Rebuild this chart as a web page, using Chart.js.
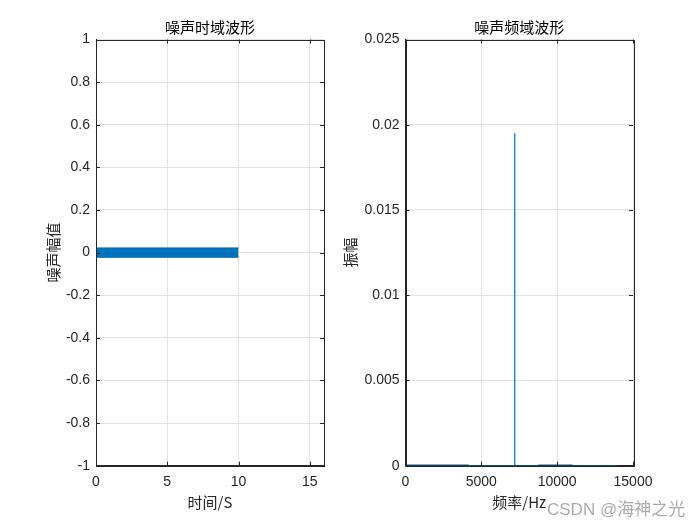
<!DOCTYPE html>
<html lang="zh">
<head>
  <meta charset="UTF-8" />
  <title>噪声波形</title>
  <script src="https://cdn.jsdelivr.net/npm/chart.js"></script>
  <style>
    body {
      margin: 0;
      background: #fff;
      width: 700px;
      height: 525px;
      position: relative;
      overflow: hidden;
    }
    #timeChart, #freqChart {
      position: absolute;
      top: 0;
    }
    #timeChart { left: 0; }
    #freqChart { left: 320px; }
    .mark {
      position: absolute;
      left: 547px;
      top: 495px;
      font: 17px "Liberation Sans", "Noto Sans CJK SC", sans-serif;
      color: rgba(150, 150, 150, 0.8);
      white-space: nowrap;
    }
  </style>
</head>
<body>

  <canvas id="timeChart" width="335" height="525"></canvas>
  <canvas id="freqChart" width="380" height="525"></canvas>
  <div class="mark">CSDN @海神之光</div>

  <script>
    // 时域: 噪声包络 (0~10 s)
    const timeX = [0, 10];
    const noiseUpper = [0.022, 0.022];
    const noiseLower = [-0.022, -0.022];

    // 频域
    const freqX = [0, 4150, 4160, 7190, 7200, 7210, 8740, 8750, 10990, 11000, 14000];
    const freqAmp = [0.00005, 0.00005, 0, 0, 0.0195, 0, 0, 0.00005, 0.00005, 0, 0];

    const timeTicksX = [0, 5, 10, 15];
    const freqTicksX = [0, 5000, 10000, 15000];

    const lineBlue = '#0072BD';
    const axisColor = '#262626';
    const gridColor = '#e3e3e3';
    const tickFont = { family: 'Liberation Sans, Arial, sans-serif', size: 14 };
    const cjkFont = { family: 'Noto Sans CJK SC, sans-serif', size: 15, weight: 'normal' };

    function fmt(v) {
      return String(+Number(v).toFixed(4));
    }

    // MATLAB 风格: 四边框 + 向内刻度
    const boxTicks = {
      id: 'boxTicks',
      afterDraw(chart) {
        const { ctx, chartArea: a, scales } = chart;
        const len = 4;
        ctx.save();
        ctx.strokeStyle = axisColor;
        ctx.lineWidth = 1;
        ctx.beginPath();
        scales.x.ticks.forEach(t => {
          const px = Math.round(scales.x.getPixelForValue(t.value)) + 0.5;
          ctx.moveTo(px, a.bottom);
          ctx.lineTo(px, a.bottom - len);
          ctx.moveTo(px, a.top);
          ctx.lineTo(px, a.top + len);
        });
        scales.y.ticks.forEach(t => {
          const py = Math.round(scales.y.getPixelForValue(t.value)) + 0.5;
          ctx.moveTo(a.left, py);
          ctx.lineTo(a.left + len, py);
          ctx.moveTo(a.right, py);
          ctx.lineTo(a.right - len, py);
        });
        ctx.stroke();
        ctx.strokeRect(Math.round(a.left) + 0.5, Math.round(a.top) + 0.5,
          Math.round(a.right - a.left), Math.round(a.bottom - a.top));
        ctx.restore();
      }
    };

    function makeOptions(cfg) {
      return {
        responsive: false,
        animation: false,
        layout: { padding: { left: cfg.padLeft, right: cfg.padRight, top: 0, bottom: 0 } },
        plugins: {
          legend: { display: false },
          tooltip: { enabled: false },
          title: {
            display: true,
            text: cfg.title,
            fullSize: false,
            color: '#000',
            font: cjkFont,
            padding: { top: 18, bottom: 3.5 }
          }
        },
        scales: {
          x: {
            type: 'linear',
            min: cfg.xMin,
            max: cfg.xMax,
            afterFit: s => { s.height = 59.3; },
            afterBuildTicks: s => { s.ticks = cfg.xTicks.map(v => ({ value: v })); },
            grid: { color: gridColor, drawTicks: false },
            border: { color: axisColor },
            ticks: { color: axisColor, font: tickFont, padding: 8, maxRotation: 0, callback: v => fmt(v) },
            title: {
              display: true,
              text: cfg.xTitle,
              color: axisColor,
              font: cjkFont,
              padding: { top: 4, bottom: 14 }
            }
          },
          y: {
            min: cfg.yMin,
            max: cfg.yMax,
            afterFit: s => { s.width = cfg.yWidth; },
            grid: { color: gridColor, drawTicks: false },
            border: { color: axisColor },
            ticks: { color: axisColor, font: tickFont, padding: 6, stepSize: cfg.yStep, callback: v => fmt(v) },
            title: {
              display: true,
              text: cfg.yTitle,
              color: axisColor,
              font: cjkFont,
              padding: { top: 4, bottom: 4 }
            }
          }
        }
      };
    }

    new Chart(document.getElementById('timeChart'), {
      type: 'line',
      data: {
        datasets: [
          {
            data: timeX.map((t, i) => ({ x: t, y: noiseUpper[i] })),
            borderColor: lineBlue,
            backgroundColor: lineBlue,
            borderWidth: 1,
            pointRadius: 0,
            fill: '+1'
          },
          {
            data: timeX.map((t, i) => ({ x: t, y: noiseLower[i] })),
            borderColor: lineBlue,
            borderWidth: 1,
            pointRadius: 0,
            fill: false
          }
        ]
      },
      options: makeOptions({
        title: '噪声时域波形',
        xTitle: '时间/S',
        yTitle: '噪声幅值',
        xMin: 0, xMax: 16, xTicks: timeTicksX,
        yMin: -1, yMax: 1, yStep: 0.2,
        padLeft: 40, padRight: 11, yWidth: 56
      }),
      plugins: [boxTicks]
    });

    new Chart(document.getElementById('freqChart'), {
      type: 'line',
      data: {
        datasets: [{
          data: freqX.map((f, i) => ({ x: f, y: freqAmp[i] })),
          borderColor: lineBlue,
          borderWidth: 0.8,
          pointRadius: 0,
          fill: false
        }]
      },
      options: makeOptions({
        title: '噪声频域波形',
        xTitle: '频率/Hz',
        yTitle: '振幅',
        xMin: 0, xMax: 15000, xTicks: freqTicksX,
        yMin: 0, yMax: 0.025, yStep: 0.005,
        padLeft: 17, padRight: 67, yWidth: 68.5
      }),
      plugins: [boxTicks]
    });
  </script>
</body>
</html>
